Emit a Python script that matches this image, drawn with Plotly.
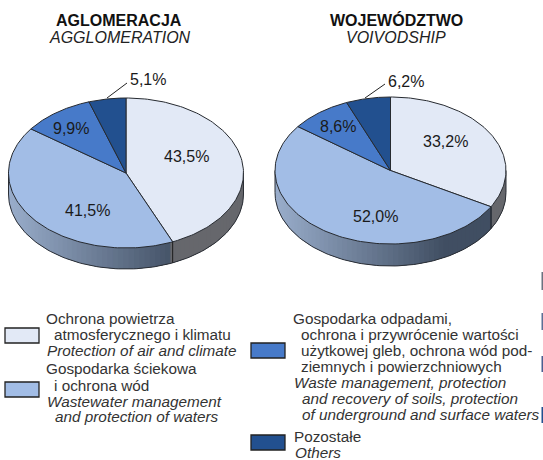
import numpy as np
import plotly.graph_objects as go

# --- data ---
category_names = ["Ochrona powietrza", "Gospodarka ściekowa", "Gospodarka odpadami", "Pozostałe"]
agglomeration_values = [43.5, 41.5, 9.9, 5.1]
voivodship_values = [33.2, 52.0, 8.6, 6.2]
agglomeration_labels = ["43,5%", "41,5%", "9,9%", "5,1%"]
voivodship_labels = ["33,2%", "52,0%", "8,6%", "6,2%"]
slice_colors = ["#E2E9F6", "#A2BDE6", "#477AC9", "#22508F"]
side_light = [(0x9A, 0xAE, 0xCC), (0x40, 0x4E, 0x62)]
side_grey = [(0x66, 0x67, 0x6C), (0x55, 0x56, 0x5B)]

W, H = 543, 460
fig = go.Figure()


def arc(cx, cy, rx, ry, a0, a1, n=120):
    t = np.linspace(a0, a1, n)
    return cx + rx * np.sin(t), cy - ry * np.cos(t)


def add_poly(xs, ys, fill, line=None, width=1):
    fig.add_trace(go.Scatter(
        x=list(xs), y=list(ys), mode="lines", fill="toself", fillcolor=fill,
        line=dict(color=line or fill, width=width if line else 0),
        hoverinfo="skip", showlegend=False))


def draw_pie(values, cx, cy, rx, ry, depth):
    angles = np.concatenate([[0], np.cumsum(values)]) / sum(values) * 2 * np.pi
    # visible wall: from the right extreme (pi/2) to the left extreme (3pi/2)
    split = angles[1]
    strips = np.linspace(3 * np.pi / 2, np.pi / 2, 70)
    lo, hi = side_light
    for a, b in zip(strips[:-1], strips[1:]):
        end = max(b - 0.12, np.pi / 2)
        x0, y0 = arc(cx, cy, rx, ry, a, end, 8)
        xs = list(x0) + list(x0[::-1])
        ys = list(y0) + list((y0 + depth)[::-1])
        mid = (a + b) / 2
        if mid < split:
            col = "rgb(%d,%d,%d)" % side_grey[0]
        else:
            f = min(rx * (np.sin(mid) + 1) / (rx * 1.48), 1)
            col = "rgb(%d,%d,%d)" % tuple(int(lo[i] + (hi[i] - lo[i]) * f) for i in range(3))
        add_poly(xs, ys, col)
    # wall outline
    x0, y0 = arc(cx, cy, rx, ry, np.pi / 2, 3 * np.pi / 2)
    fig.add_trace(go.Scatter(x=list(x0), y=list(y0 + depth), mode="lines",
                             line=dict(color="#2b2f36", width=1), hoverinfo="skip", showlegend=False))
    for xv in (cx - rx, cx + rx):
        fig.add_trace(go.Scatter(x=[xv, xv], y=[cy, cy + depth], mode="lines",
                                 line=dict(color="#2b2f36", width=1), hoverinfo="skip", showlegend=False))
    sx, sy = arc(cx, cy, rx, ry, split, split, 1)
    fig.add_trace(go.Scatter(x=[sx[0], sx[0]], y=[sy[0], sy[0] + depth], mode="lines",
                             line=dict(color="#1c1c1c", width=1), hoverinfo="skip", showlegend=False))
    # top faces
    for i, col in enumerate(slice_colors):
        ax, ay = arc(cx, cy, rx, ry, angles[i], angles[i + 1])
        add_poly([cx] + list(ax) + [cx], [cy] + list(ay) + [cy], col, "#262a30", 1)


draw_pie(agglomeration_values, 126, 173, 117.5, 75, 21)
draw_pie(voivodship_values, 390.5, 170.5, 115.5, 73.5, 22)


def txt(x, y, s, size=15.3, anchor="left", color="#333333"):
    fig.add_annotation(x=x, y=y, text=s, showarrow=False, xanchor=anchor, yanchor="middle",
                       font=dict(family="Liberation Sans", size=size, color=color), align="left")


# leader lines
fig.add_trace(go.Scatter(x=[107, 127], y=[98, 83], mode="lines", line=dict(color="#222222", width=1),
                         hoverinfo="skip", showlegend=False))
fig.add_trace(go.Scatter(x=[365, 385], y=[98, 84], mode="lines", line=dict(color="#222222", width=1),
                         hoverinfo="skip", showlegend=False))

# value labels
for (x, y), s in zip([(186, 156), (87, 210), (71, 128), (148, 79)], agglomeration_labels):
    txt(x, y, s, 16, "center", "#1a1a1a")
for (x, y), s in zip([(445, 141), (375, 216), (338, 126), (406, 81)], voivodship_labels):
    txt(x, y, s, 16, "center", "#1a1a1a")

# titles
txt(119, 20, "<b>AGLOMERACJA</b>", 16, "center", "#111111")
txt(120, 37, "<i>AGGLOMERATION</i>", 16, "center", "#222222")
txt(396.5, 20, "<b>WOJEWÓDZTWO</b>", 16, "center", "#111111")
txt(396, 37, "<i>VOIVODSHIP</i>", 16, "center", "#222222")

# legend swatches
for x0, y0, x1, y1, col in [(5, 328, 39, 343, slice_colors[0]), (5, 382, 39, 397, slice_colors[1]),
                            (251, 343, 285, 358, slice_colors[2]), (251, 435, 285, 450, slice_colors[3])]:
    fig.add_shape(type="rect", x0=x0, y0=y0, x1=x1, y1=y1, fillcolor=col, line=dict(color="#222222", width=1.3))

# cropped remnants on the right edge
for y0, y1, col in [(272, 290, "#6b7280"), (313, 330, "#5b6f95"), (356, 372, "#4a5f90"), (407, 423, "#22508F")]:
    fig.add_shape(type="rect", x0=541.5, y0=y0, x1=543, y1=y1, fillcolor=col, line=dict(width=0))

# legend text
left_lines = [(44, 318, "Ochrona powietrza"), (52, 334, "atmosferycznego i klimatu"),
              (45, 350, "<i>Protection of air and climate</i>"), (44, 368, "Gospodarka ściekowa"),
              (52, 385, "i ochrona wód"), (45, 401, "<i>Wastewater management</i>"),
              (53, 416, "<i>and protection of waters</i>")]
right_lines = [(291, 318, "Gospodarka odpadami,"), (299, 334, "ochrona i przywrócenie wartości"),
               (299, 350, "użytkowej gleb, ochrona wód pod-"), (299, 366, "ziemnych i powierzchniowych"),
               (292, 382, "<i>Waste management, protection</i>"), (300, 398, "<i>and recovery of soils, protection</i>"),
               (300, 414, "<i>of underground and surface waters</i>"), (292, 436, "Pozostałe"), (293, 452, "<i>Others</i>")]
for x, y, s in left_lines + right_lines:
    txt(x, y, s)

fig.update_xaxes(range=[0, W], visible=False, fixedrange=True)
fig.update_yaxes(range=[H, 0], visible=False, fixedrange=True)
fig.update_layout(width=W, height=H, margin=dict(l=0, r=0, t=0, b=0),
                  paper_bgcolor="white", plot_bgcolor="white", showlegend=False)
fig.write_html("out.html", config={"displayModeBar": False},
               post_script="document.body.style.margin='0';document.body.style.overflow='hidden';")
